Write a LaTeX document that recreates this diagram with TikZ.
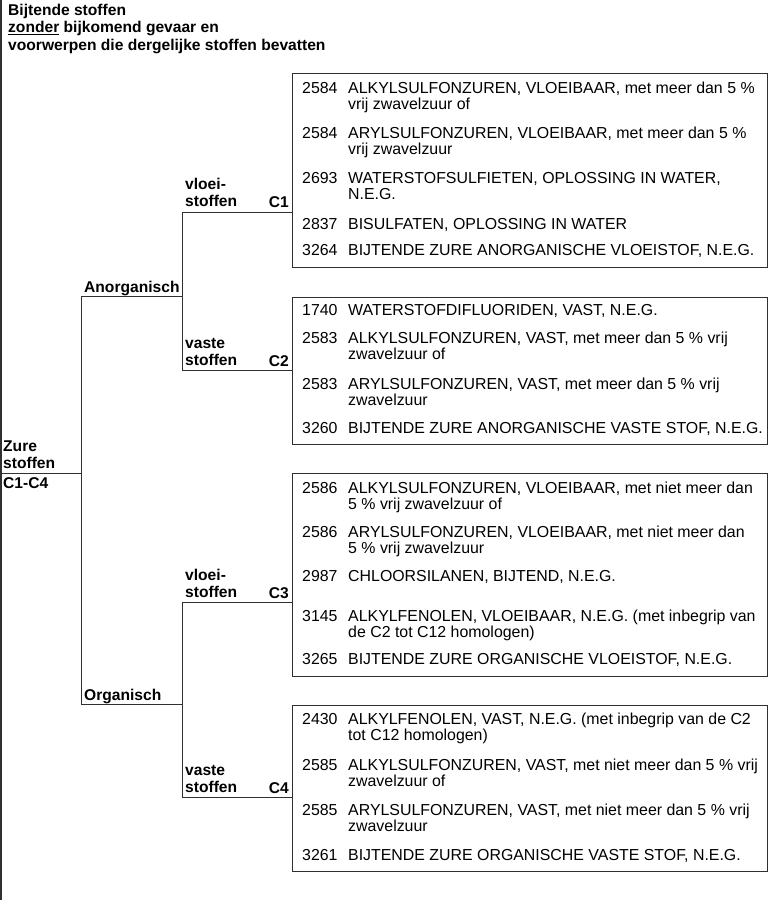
\documentclass[tikz,border=0pt]{standalone}
\usepackage{fontspec}
\setmainfont{Liberation Sans}
\usepackage{tikz}
\usetikzlibrary{positioning}
\definecolor{treeline}{HTML}{303030}
\newcommand{\listfont}{\fontsize{15.9pt}{16.5pt}\selectfont}
\newcommand{\lblfont}{\fontsize{15.6pt}{17.5pt}\selectfont\bfseries}
\newcommand{\toplines}[1]{\begin{tabular}[t]{@{}l@{}}#1\end{tabular}}

\begin{document}
\begin{tikzpicture}[x=1pt,y=-1pt,
    tree/.style={treeline,line width=0.9pt},
    groupbox/.style={draw=treeline,line width=0.9pt,anchor=north west,inner sep=0pt},
    branchlbl/.style={anchor=base west,inner sep=0pt,font=\lblfont},
    classlbl/.style={anchor=base east,inner sep=0pt,font=\lblfont},
    unnr/.style={anchor=base west,inner sep=0pt,font=\listfont},
    undesc/.style={anchor=base west,inner sep=0pt,font=\listfont}]
        \useasboundingbox (0,0) rectangle (768,900);
        % titel
        \node[branchlbl] (title) at (8,15)
          {\toplines{Bijtende stoffen\\\underline{zonder} bijkomend gevaar en\\voorwerpen die dergelijke stoffen bevatten}};
        % boom
        \coordinate (top) at (1,0);
        \coordinate (bottom) at (1,900);
        \coordinate (root) at (1,473);
        \coordinate (anorg) at (81,296);
        \coordinate (org) at (81,704);
        \coordinate (anorgliq) at (182,212);
        \coordinate (anorgsol) at (182,370);
        \coordinate (orgliq) at (182,602);
        \coordinate (orgsol) at (182,797);
        \node[groupbox,minimum width=475pt,minimum height=194pt] (cbox1) at (292,73) {};
        \node[groupbox,minimum width=475pt,minimum height=147pt] (cbox2) at (292,297) {};
        \node[groupbox,minimum width=475pt,minimum height=203pt] (cbox3) at (292,473) {};
        \node[groupbox,minimum width=475pt,minimum height=166pt] (cbox4) at (292,705) {};
        \draw[tree,line width=1.3pt] (top) -- (bottom);
        \draw[tree] (root) -- (root -| anorg);
        \draw[tree] (anorg) -- (org);
        \draw[tree] (anorg) -- (anorg -| anorgliq);
        \draw[tree] (org) -- (org -| orgliq);
        \draw[tree] (anorgliq) -- (anorgsol);
        \draw[tree] (orgliq) -- (orgsol);
        \draw[tree] (anorgliq) -- (cbox1.west |- anorgliq);
        \draw[tree] (anorgsol) -- (cbox2.west |- anorgsol);
        \draw[tree] (orgliq) -- (cbox3.west |- orgliq);
        \draw[tree] (orgsol) -- (cbox4.west |- orgsol);
        % labels
        \node[branchlbl] (zure) at (3,451) {\toplines{Zure\\stoffen}};
        \node[branchlbl] (zureC) at (3,488) {C1-C4};
        \node[branchlbl] (anorglbl) at (84,292) {Anorganisch};
        \node[branchlbl] (orglbl) at (84,700) {Organisch};
        \node[branchlbl] (liq1) at (185,189) {\toplines{vloei-\\stoffen}};
        \node[branchlbl] (sol1) at (185,348) {\toplines{vaste\\stoffen}};
        \node[branchlbl] (liq2) at (185,580) {\toplines{vloei-\\stoffen}};
        \node[branchlbl] (sol2) at (185,775) {\toplines{vaste\\stoffen}};
        \node[classlbl] (c1) at (289,207) {C1};
        \node[classlbl] (c2) at (289,366) {C2};
        \node[classlbl] (c3) at (289,598) {C3};
        \node[classlbl] (c4) at (289,793) {C4};
        % stoffen per groep
        \foreach \y/\nr/\txt in {
            93/2584/{ALKYLSULFONZUREN, VLOEIBAAR, met meer dan 5 \%\\vrij zwavelzuur of},
            138/2584/{ARYLSULFONZUREN, VLOEIBAAR, met meer dan 5 \%\\vrij zwavelzuur},
            183/2693/{WATERSTOFSULFIETEN, OPLOSSING IN WATER,\\N.E.G.},
            229/2837/{BISULFATEN, OPLOSSING IN WATER},
            255/3264/{BIJTENDE ZURE ANORGANISCHE VLOEISTOF, N.E.G.},
            315/1740/{WATERSTOFDIFLUORIDEN, VAST, N.E.G.},
            343/2583/{ALKYLSULFONZUREN, VAST, met meer dan 5 \% vrij\\zwavelzuur of},
            389/2583/{ARYLSULFONZUREN, VAST, met meer dan 5 \% vrij\\zwavelzuur},
            433/3260/{BIJTENDE ZURE ANORGANISCHE VASTE STOF, N.E.G.},
            493/2586/{ALKYLSULFONZUREN, VLOEIBAAR, met niet meer dan\\5 \% vrij zwavelzuur of},
            537/2586/{ARYLSULFONZUREN, VLOEIBAAR, met niet meer dan\\5 \% vrij zwavelzuur},
            581/2987/{CHLOORSILANEN, BIJTEND, N.E.G.},
            621/3145/{ALKYLFENOLEN, VLOEIBAAR, N.E.G. (met inbegrip van\\de C2 tot C12 homologen)},
            664/3265/{BIJTENDE ZURE ORGANISCHE VLOEISTOF, N.E.G.},
            724/2430/{ALKYLFENOLEN, VAST, N.E.G. (met inbegrip van de C2\\tot C12 homologen)},
            770/2585/{ALKYLSULFONZUREN, VAST, met niet meer dan 5 \% vrij\\zwavelzuur of},
            815/2585/{ARYLSULFONZUREN, VAST, met niet meer dan 5 \% vrij\\zwavelzuur},
            860/3261/{BIJTENDE ZURE ORGANISCHE VASTE STOF, N.E.G.}}
          {\node[unnr] (nr-\y) at (302,\y) {\nr};
           \node[undesc] (txt-\y) at (348,\y) {\toplines{\txt}};}
      \end{tikzpicture}
\end{document}
